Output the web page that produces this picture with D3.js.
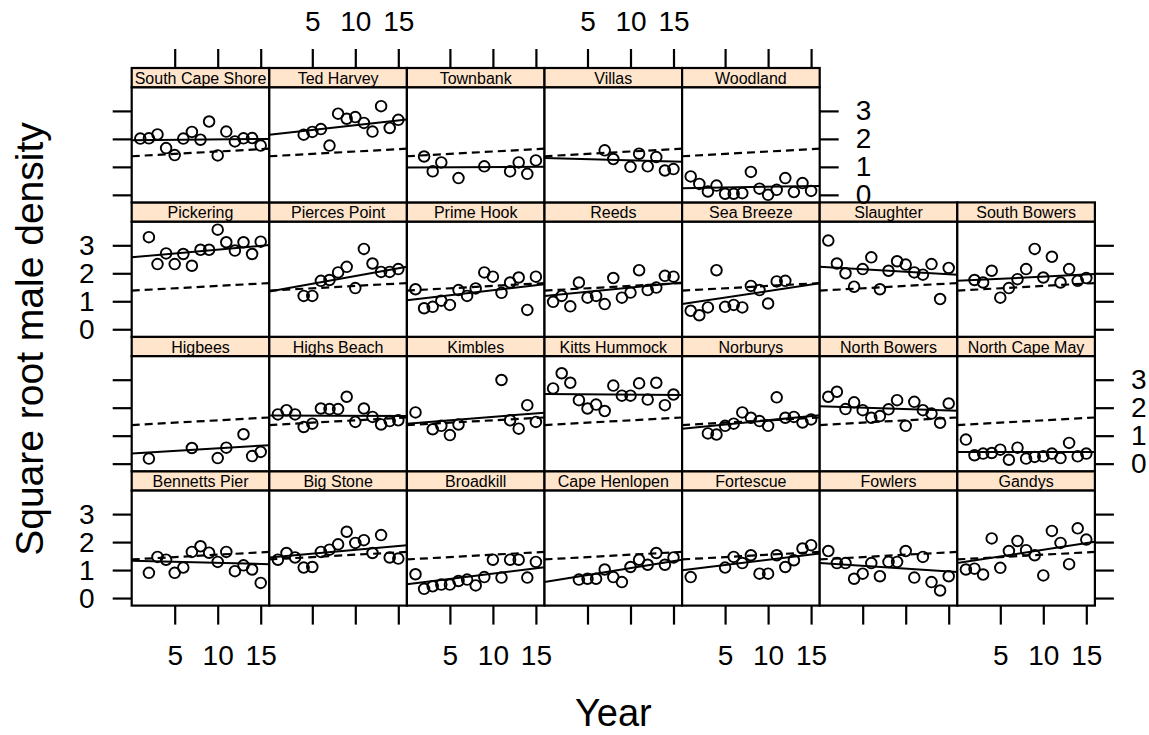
<!DOCTYPE html>
<html>
<head>
<meta charset="utf-8">
<script src="https://cdn.jsdelivr.net/npm/d3@7"></script>
<style>
  body { margin: 0; background: #fff; }
  svg { display: block; font-family: Arial, "Liberation Sans", sans-serif; }
</style>
</head>
<body>
<svg id="chart" width="1149" height="735"></svg>
<script>
// panels in lattice order (bottom-left first, left to right, then upwards)
const sites = ["Bennetts Pier", "Big Stone", "Broadkill", "Cape Henlopen", "Fortescue", "Fowlers", "Gandys",
  "Higbees", "Highs Beach", "Kimbles", "Kitts Hummock", "Norburys", "North Bowers", "North Cape May",
  "Pickering", "Pierces Point", "Prime Hook", "Reeds", "Sea Breeze", "Slaughter", "South Bowers",
  "South Cape Shore", "Ted Harvey", "Townbank", "Villas", "Woodland"];

const years = [1, 2, 3, 4, 5, 6, 7, 8, 9, 10, 11, 12, 13, 14, 15];

// square root male density per site, one value per year (null = not surveyed)
const density = [
  [null, 0.90, 1.47, 1.37, 0.90, 1.09, 1.65, 1.85, 1.62, 1.29, 1.65, 0.96, 1.17, 1.02, 0.54],
  [1.37, 1.61, 1.45, 1.09, 1.11, 1.65, 1.73, 1.92, 2.37, 1.97, 2.07, 1.61, 2.25, 1.45, 1.41],
  [0.85, 0.33, 0.42, 0.48, 0.48, 0.61, 0.66, 0.45, 0.75, 1.37, 0.73, 1.37, 1.37, 0.73, 1.29],
  [null, null, null, 0.66, 0.69, 0.69, 1.02, 0.75, 0.57, 1.11, 1.37, 1.19, 1.61, 1.19, 1.45],
  [0.75, null, null, null, 1.09, 1.47, 1.25, 1.53, 0.87, 0.87, 1.53, 1.11, 1.35, 1.77, 1.89],
  [1.68, 1.25, 1.25, 0.69, 0.87, 1.25, 0.78, 1.29, 1.29, 1.68, 0.73, 1.47, 0.57, 0.27, 0.78],
  [1.02, 1.05, 0.84, 2.13, 1.08, 1.68, 2.04, 1.71, 1.53, 0.81, 2.40, 1.97, 1.21, 2.49, 2.09],
  [null, 0.18, null, null, null, null, 0.56, null, null, 0.20, 0.57, null, 1.05, 0.27, 0.42],
  [1.76, 1.91, 1.76, 1.31, 1.43, 1.97, 1.95, 1.95, 2.39, 1.49, 1.97, 1.67, 1.40, 1.52, 1.55],
  [1.83, null, 1.23, 1.35, 1.02, 1.40, null, null, null, null, 2.99, 1.55, 1.25, 2.09, 1.49],
  [2.69, 3.23, 2.89, 2.27, 1.97, 2.11, 1.88, 2.79, 2.43, 2.43, 2.87, 2.29, 2.89, 2.09, 2.47],
  [null, null, 1.08, 1.04, 1.35, 1.43, 1.83, 1.64, 1.52, 1.35, 2.37, 1.64, 1.67, 1.47, 1.58],
  [2.39, 2.57, 1.95, 2.19, 1.91, 1.64, 1.70, 1.94, 2.27, 1.35, 2.21, 1.91, 1.79, 1.46, 2.15],
  [0.86, 0.30, 0.36, 0.38, 0.50, 0.14, 0.57, 0.18, 0.24, 0.26, 0.36, 0.20, 0.74, 0.26, 0.36],
  [null, 3.29, 2.33, 2.71, 2.33, 2.69, 2.27, 2.84, 2.84, 3.56, 3.11, 2.81, 3.11, 2.69, 3.13],
  [null, null, null, 1.19, 1.19, 1.73, 1.76, 2.03, 2.23, 1.47, 2.87, 2.35, 2.05, 2.05, 2.15],
  [1.43, 0.75, 0.80, 1.02, 0.87, 1.40, 1.19, 1.46, 2.03, 1.88, 1.30, 1.67, 1.85, 0.69, 1.88],
  [0.98, 1.19, 0.82, 1.67, 1.13, 1.19, 0.90, 1.83, 1.13, 1.31, 2.11, 1.40, 1.49, 1.91, 1.88],
  [0.66, 0.50, 0.78, 2.11, 0.80, 0.87, 0.78, 1.55, 1.40, 0.92, 1.71, 1.73, null, null, null],
  [3.17, 2.35, 2.00, 1.52, 2.15, 2.57, 1.43, 2.09, 2.43, 2.31, 2.03, 1.95, 2.33, 1.08, 2.19],
  [null, 1.76, 1.67, 2.09, 1.13, 1.47, 1.79, 2.15, 2.87, 1.85, 2.59, 1.67, 2.15, 1.73, 1.83],
  [2.01, 2.02, 2.16, 1.67, 1.42, 2.01, 2.25, 1.97, 2.62, 1.41, 2.26, 1.91, 2.02, 2.03, 1.76],
  [null, null, null, 2.15, 2.25, 2.35, 1.76, 2.90, 2.72, 2.78, 2.57, 2.26, 3.17, 2.39, 2.68],
  [null, 1.37, 0.84, 1.16, null, 0.60, null, null, 1.02, null, null, 0.84, 1.16, 0.75, 1.23],
  [null, null, null, null, null, null, 1.59, 1.28, null, 1.00, 1.47, 1.02, 1.35, 0.87, 0.92],
  [0.66, 0.39, 0.12, 0.33, 0.04, 0.04, 0.06, 0.82, 0.22, 0.00, 0.18, 0.60, 0.10, 0.42, 0.14]
];

// per-site fitted line, value at the left (year 0) and right (year 16) panel edges
const fitLeft  = [1.33, 1.45, 0.49, 0.57, 0.99, 1.25, 1.25, 0.36, 1.72, 1.43, 2.49, 1.25, 2.05,
  0.42, 2.57, 1.35, 1.04, 1.19, 0.90, 2.23, 1.73, 1.95, 2.15, 0.98, 1.32, 0.24];
const fitRight = [1.21, 1.89, 1.10, 1.37, 1.59, 0.93, 2.01, 0.66, 1.70, 1.82, 2.45, 1.73, 1.89,
  0.42, 3.01, 2.23, 1.61, 1.67, 1.64, 1.95, 1.97, 2.00, 2.69, 1.00, 1.18, 0.32];
// overall (all sites) fit, dashed
const overallFit = [1.38, 1.65];

const xDomain = [0, 16];
const yDomain = [-0.27, 3.84];
const xTicks = [5, 10, 15];
const yTicks = [0, 1, 2, 3];

const nCol = 7;
const plotLeft = 131.7, plotTop = 68, colW = 137.6, rowH = 134.4, stripH = 19.4;
const panelH = rowH - stripH;
const tickLen = 19;

const svg = d3.select("#chart");

const x = d3.scaleLinear().domain(xDomain).range([0, colW]);
const y = d3.scaleLinear().domain(yDomain).range([panelH, 0]);

function styleAxis(g) {
  g.select(".domain").remove();
  g.selectAll(".tick line").attr("stroke", "#000").attr("stroke-width", 2.2);
  g.selectAll(".tick text").attr("fill", "#000").attr("font-size", 28)
    .attr("font-family", "Arial, 'Liberation Sans', sans-serif");
}

const lastInRow = {};
sites.forEach((s, i) => {
  const r = Math.floor(i / nCol);
  lastInRow[r] = Math.max(lastInRow[r] ?? -1, i % nCol);
});
const nRow = Math.ceil(sites.length / nCol);

sites.forEach((site, i) => {
  const rowB = Math.floor(i / nCol);
  const col = i % nCol;
  const rowT = nRow - 1 - rowB;
  const gx = plotLeft + col * colW;
  const gy = plotTop + rowT * rowH;

  const g = svg.append("g").attr("transform", `translate(${gx},${gy})`);

  // strip
  g.append("rect").attr("width", colW).attr("height", stripH)
    .attr("fill", "#ffe5cc").attr("stroke", "#000").attr("stroke-width", 2.2);
  g.append("text").attr("x", colW / 2).attr("y", 16)
    .attr("text-anchor", "middle").attr("font-size", 16).text(site);

  const p = g.append("g").attr("transform", `translate(0,${stripH})`);
  p.append("clipPath").attr("id", "clip" + i)
    .append("rect").attr("width", colW).attr("height", panelH);
  p.append("rect").attr("width", colW).attr("height", panelH).attr("fill", "#fff");

  const pts = years.map((yr, k) => ({ yr: yr, v: density[i][k] })).filter(d => d.v !== null);
  p.selectAll("circle").data(pts).enter().append("circle")
    .attr("cx", d => x(d.yr)).attr("cy", d => y(d.v)).attr("r", 5.3)
    .attr("fill", "none").attr("stroke", "#000").attr("stroke-width", 1.9);

  const lines = p.append("g").attr("clip-path", `url(#clip${i})`);
  lines.append("line")
    .attr("x1", x(xDomain[0])).attr("x2", x(xDomain[1]))
    .attr("y1", y(fitLeft[i])).attr("y2", y(fitRight[i]))
    .attr("stroke", "#000").attr("stroke-width", 2);
  lines.append("line")
    .attr("x1", x(xDomain[0])).attr("x2", x(xDomain[1]))
    .attr("y1", y(overallFit[0])).attr("y2", y(overallFit[1]))
    .attr("stroke", "#000").attr("stroke-width", 2.2).attr("stroke-dasharray", "8,5");

  p.append("rect").attr("width", colW).attr("height", panelH)
    .attr("fill", "none").attr("stroke", "#000").attr("stroke-width", 2.2);

  // axes, alternating labels like lattice
  if (rowT === nRow - 1) {
    const a = p.append("g").attr("transform", `translate(0,${panelH})`)
      .call(d3.axisBottom(x).tickValues(xTicks).tickSize(tickLen).tickSizeOuter(0).tickPadding(21)
        .tickFormat(col % 2 === 0 ? d3.format("d") : () => ""));
    styleAxis(a);
  }
  if (rowT === 0) {
    const a = g.append("g")
      .call(d3.axisTop(x).tickValues(xTicks).tickSize(tickLen).tickSizeOuter(0).tickPadding(18)
        .tickFormat(col % 2 === 1 ? d3.format("d") : () => ""));
    styleAxis(a);
  }
  if (col === 0) {
    const a = p.append("g")
      .call(d3.axisLeft(y).tickValues(yTicks).tickSize(tickLen).tickSizeOuter(0).tickPadding(18)
        .tickFormat(rowT % 2 === 1 ? d3.format("d") : () => ""));
    styleAxis(a);
  }
  if (col === lastInRow[rowB]) {
    const a = p.append("g").attr("transform", `translate(${colW},0)`)
      .call(d3.axisRight(y).tickValues(yTicks).tickSize(tickLen).tickSizeOuter(0).tickPadding(17)
        .tickFormat(rowT % 2 === 0 ? d3.format("d") : () => ""));
    styleAxis(a);
  }
});

// axis titles
svg.append("text")
  .attr("x", plotLeft + nCol * colW / 2).attr("y", 726)
  .attr("text-anchor", "middle").attr("font-size", 38).text("Year");

svg.append("text")
  .attr("transform", "translate(43,339) rotate(-90)")
  .attr("text-anchor", "middle").attr("font-size", 39).text("Square root male density");
</script>
</body>
</html>
